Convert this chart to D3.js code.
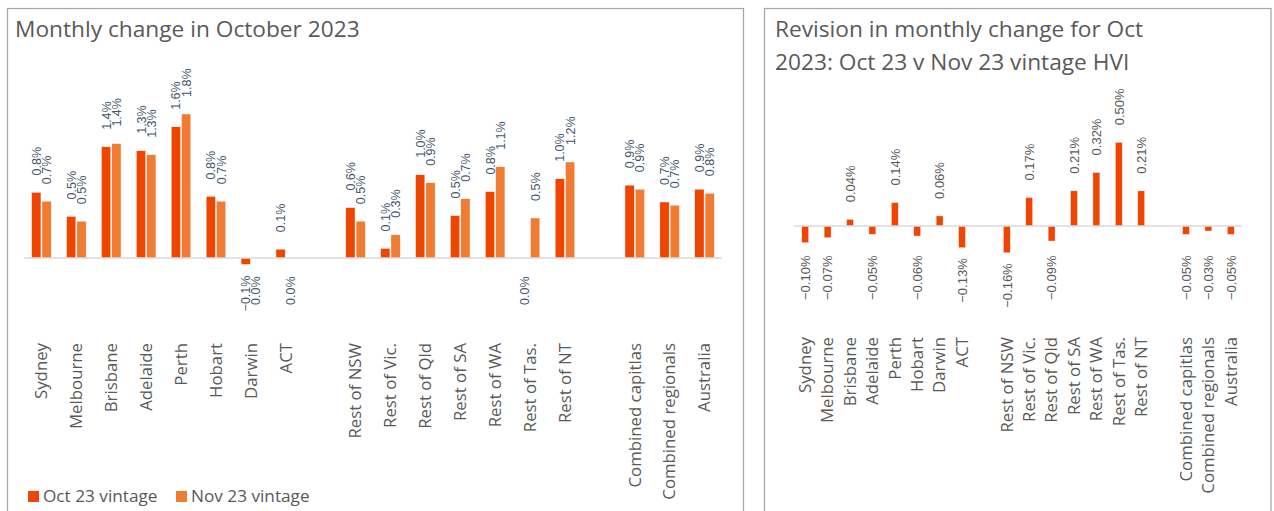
<!DOCTYPE html>
<html>
<head>
<meta charset="utf-8">
<script src="https://cdn.jsdelivr.net/npm/d3@7"></script>
<style>
  html, body { margin: 0; padding: 0; background: #ffffff; }
  svg { display: block; }
</style>
</head>
<body>
<svg id="chart" width="1274" height="511"></svg>
<script>
// ---- Data ----
const categories = ["Sydney", "Melbourne", "Brisbane", "Adelaide", "Perth", "Hobart", "Darwin", "ACT", "",
  "Rest of NSW", "Rest of Vic.", "Rest of Qld", "Rest of SA", "Rest of WA", "Rest of Tas.", "Rest of NT", "",
  "Combined capitlas", "Combined regionals", "Australia"];
const oct23Vintage = [0.82, 0.52, 1.39, 1.34, 1.64, 0.77, -0.08, 0.11, null,
  0.63, 0.12, 1.04, 0.53, 0.83, 0.0, 0.99, null,
  0.91, 0.70, 0.86];
const nov23Vintage = [0.71, 0.46, 1.43, 1.29, 1.80, 0.71, 0.0, 0.0, null,
  0.46, 0.29, 0.94, 0.74, 1.14, 0.50, 1.20, null,
  0.86, 0.66, 0.81];
const revision = [-0.10, -0.07, 0.04, -0.05, 0.14, -0.06, 0.06, -0.13, null,
  -0.16, 0.17, -0.09, 0.21, 0.32, 0.50, 0.21, null,
  -0.05, -0.03, -0.05];
const seriesNames = ["Oct 23 vintage", "Nov 23 vintage"];
const leftTitle = ["Monthly change in October 2023"];
const rightTitle = ["Revision in monthly change for Oct", "2023: Oct 23 v Nov 23 vintage HVI"];

// ---- Styles ----
const colOct = "#EE4600";
const colNov = "#F07C33";
const textGrey = "#595959";
const labelLeft = "#44546A";
const labelRight = "#595959";
const titleFont = "'Open Sans', sans-serif";
const labelFont = "'Liberation Sans', Arial, sans-serif";

const svg = d3.select("#chart");

// Panel borders
svg.append("rect").attr("x", 7.5).attr("y", 8.5).attr("width", 736).attr("height", 520)
  .attr("fill", "none").attr("stroke", "#A6A6A6").attr("stroke-width", 1.25);
svg.append("rect").attr("x", 764.5).attr("y", 8.5).attr("width", 506.5).attr("height", 520)
  .attr("fill", "none").attr("stroke", "#A6A6A6").attr("stroke-width", 1.25);

// ---- Left chart ----
const idx = d3.range(categories.length);
const xL = d3.scaleBand().domain(idx).range([24, 722]).paddingInner(0.44).paddingOuter(0.22);
const xL1 = d3.scaleBand().domain([0, 1]).range([0, xL.bandwidth()]).paddingInner(0.1);
const yL = d3.scaleLinear().domain([0, 1.8]).range([258, 114]);
const fmt1 = v => d3.format(".1f")(v) + "%";

svg.append("text").attr("x", 15).attr("y", 37).attr("font-family", titleFont)
  .attr("font-size", 22.7).attr("fill", textGrey).text(leftTitle[0]);

const leftSeries = [oct23Vintage, nov23Vintage];
const leftCols = [colOct, colNov];
const gL = svg.append("g");
leftSeries.forEach((ser, s) => {
  const data = idx.filter(i => ser[i] !== null).map(i => ({ i, v: ser[i] }));
  gL.selectAll(null).data(data).enter().append("rect")
    .attr("x", d => xL(d.i) + xL1(s))
    .attr("width", xL1.bandwidth())
    .attr("y", d => yL(Math.max(0, d.v)))
    .attr("height", d => Math.abs(yL(d.v) - yL(0)))
    .attr("fill", leftCols[s])
    .attr("stroke", "#ffffff").attr("stroke-width", 0.4);
});
// axis line
svg.append("line").attr("x1", 24).attr("x2", 722).attr("y1", yL(0)).attr("y2", yL(0))
  .attr("stroke", "#D9D9D9").attr("stroke-width", 1.5);
// data labels
leftSeries.forEach((ser, s) => {
  const data = idx.filter(i => ser[i] !== null).map(i => ({ i, v: ser[i] }));
  gL.selectAll(null).data(data).enter().append("text")
    .attr("transform", d => {
      const cx = xL(d.i) + xL1(s) + xL1.bandwidth() / 2 + 4.5;
      const yy = d.v > 0 ? yL(d.v) - 17 : yL(Math.min(0, d.v)) + 47;
      return `translate(${cx},${yy}) rotate(-90)`;
    })
    .attr("text-anchor", "start")
    .attr("font-family", labelFont).attr("font-size", 12.5).attr("fill", labelLeft)
    .text(d => fmt1(d.v));
});
// category labels
svg.append("g").selectAll(null).data(idx.filter(i => categories[i] !== "")).enter().append("text")
  .attr("transform", i => `translate(${xL(i) + xL.bandwidth() / 2 + 5.8},343) rotate(-90)`)
  .attr("text-anchor", "end")
  .attr("font-family", titleFont).attr("font-size", 16.8).attr("fill", textGrey)
  .text(i => categories[i]);
// legend
const leg = svg.append("g");
const legX = [28, 176];
seriesNames.forEach((n, s) => {
  leg.append("rect").attr("x", legX[s]).attr("y", 491).attr("width", 11).attr("height", 11).attr("fill", leftCols[s]);
  leg.append("text").attr("x", legX[s] + 15).attr("y", 502).attr("font-family", titleFont)
    .attr("font-size", 17.2).attr("fill", textGrey).text(n);
});

// ---- Right chart ----
const xR = d3.scaleBand().domain(idx).range([794, 1242]).paddingInner(0.69).paddingOuter(0.345);
const yR = d3.scaleLinear().domain([0, 0.5]).range([226, 142.3]);
const fmt2 = v => d3.format(".2f")(v) + "%";

rightTitle.forEach((t, k) => {
  svg.append("text").attr("x", 775).attr("y", 37 + k * 33).attr("font-family", titleFont)
    .attr("font-size", 22.7).attr("fill", textGrey).text(t);
});
const rData = idx.filter(i => revision[i] !== null).map(i => ({ i, v: revision[i] }));
const gR = svg.append("g");
gR.selectAll(null).data(rData).enter().append("rect")
  .attr("x", d => xR(d.i)).attr("width", xR.bandwidth())
  .attr("y", d => yR(Math.max(0, d.v)))
  .attr("height", d => Math.abs(yR(d.v) - yR(0)))
  .attr("fill", colOct).attr("stroke", "#ffffff").attr("stroke-width", 0.4);
svg.append("line").attr("x1", 794).attr("x2", 1242).attr("y1", yR(0)).attr("y2", yR(0))
  .attr("stroke", "#D9D9D9").attr("stroke-width", 1.5);
gR.selectAll(null).data(rData).enter().append("text")
  .attr("transform", d => {
    const cx = xR(d.i) + xR.bandwidth() / 2 + 4.8;
    const yy = d.v > 0 ? yR(d.v) - 17 : Math.max(yR(0) + 74, yR(d.v) + 55);
    return `translate(${cx},${yy}) rotate(-90)`;
  })
  .attr("text-anchor", "start")
  .attr("font-family", labelFont).attr("font-size", 13).attr("fill", labelRight)
  .text(d => fmt2(d.v));
svg.append("g").selectAll(null).data(idx.filter(i => categories[i] !== "")).enter().append("text")
  .attr("transform", i => `translate(${xR(i) + xR.bandwidth() / 2 + 5.8},337) rotate(-90)`)
  .attr("text-anchor", "end")
  .attr("font-family", titleFont).attr("font-size", 16.8).attr("fill", textGrey)
  .text(i => categories[i]);
</script>
</body>
</html>
